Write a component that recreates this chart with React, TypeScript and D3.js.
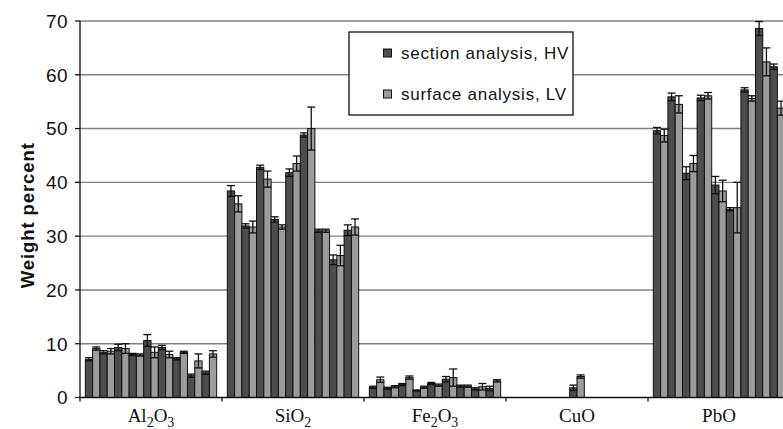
import React from "react";
import * as d3 from "d3";

// Categories: each label is split into [text, isSubscript] parts
const categories = ["Al2O3", "SiO2", "Fe2O3", "CuO", "PbO"];
const categoryParts: [string, boolean][][] = [
  [["Al", false], ["2", true], ["O", false], ["3", true]],
  [["SiO", false], ["2", true]],
  [["Fe", false], ["2", true], ["O", false], ["3", true]],
  [["CuO", false]],
  [["PbO", false]],
];

const seriesNames = ["section analysis, HV", "surface analysis, LV"];

// section analysis, HV (9 samples per oxide)
const hvAl2O3 = [7.1, 8.4, 9.3, 8.0, 10.6, 9.3, 7.2, 4.05, 4.6];
const hvSiO2 = [38.4, 31.9, 42.8, 33.1, 41.8, 48.8, 31.0, 25.6, 31.1];
const hvFe2O3 = [1.9, 1.7, 2.4, 1.3, 2.6, 3.4, 2.1, 1.6, 1.7];
const hvCuO = [0, 0, 0, 0, 1.8, 0, 0, 0, 0];
const hvPbO = [49.6, 55.9, 41.7, 55.7, 39.5, 35.0, 57.2, 68.6, 61.5];

// surface analysis, LV
const lvAl2O3 = [9.1, 8.6, 9.1, 7.9, 8.4, 8.0, 8.4, 6.8, 8.1];
const lvSiO2 = [36.0, 31.7, 40.6, 31.7, 43.5, 50.0, 31.0, 26.4, 31.7];
const lvFe2O3 = [3.3, 2.0, 3.7, 1.9, 2.3, 3.7, 2.1, 2.0, 3.1];
const lvCuO = [0, 0, 0, 0, 3.9, 0, 0, 0, 0];
const lvPbO = [48.7, 54.5, 43.5, 56.1, 38.4, 35.3, 55.6, 62.4, 53.8];

// error bars (±)
const hvErrAl2O3 = [0.3, 0.3, 0.6, 0.2, 1.1, 0.4, 0.2, 0.3, 0.3];
const hvErrSiO2 = [1.0, 0.4, 0.4, 0.5, 0.7, 0.4, 0.3, 0.9, 1.0];
const hvErrFe2O3 = [0.2, 0.2, 0.2, 0.1, 0.2, 0.5, 0.2, 0.2, 0.4];
const hvErrCuO = [0, 0, 0, 0, 0.5, 0, 0, 0, 0];
const hvErrPbO = [0.6, 0.7, 1.2, 0.5, 1.6, 0.3, 0.4, 1.3, 0.5];

const lvErrAl2O3 = [0.3, 0.5, 0.9, 0.2, 1.0, 0.6, 0.2, 1.3, 0.6];
const lvErrSiO2 = [1.5, 1.1, 1.5, 0.4, 1.4, 4.0, 0.3, 1.9, 1.5];
const lvErrFe2O3 = [0.5, 0.2, 0.3, 0.2, 0.2, 1.6, 0.2, 0.6, 0.2];
const lvErrCuO = [0, 0, 0, 0, 0.3, 0, 0, 0, 0];
const lvErrPbO = [1.2, 1.6, 1.5, 0.6, 2.0, 4.7, 0.5, 2.6, 1.3];

const yTicks = [0, 10, 20, 30, 40, 50, 60, 70];

const hvAll = [hvAl2O3, hvSiO2, hvFe2O3, hvCuO, hvPbO];
const lvAll = [lvAl2O3, lvSiO2, lvFe2O3, lvCuO, lvPbO];
const hvErrAll = [hvErrAl2O3, hvErrSiO2, hvErrFe2O3, hvErrCuO, hvErrPbO];
const lvErrAll = [lvErrAl2O3, lvErrSiO2, lvErrFe2O3, lvErrCuO, lvErrPbO];

const W = 783;
const H = 429;
const X0 = 80;
const X1 = 790;
const Y0 = 397.5;
const Y1 = 21;
const DARK = "#4d4d4d";
const LIGHT = "#9c9c9c";
const GRID = "#808080";
const SANS = "'Liberation Sans', Arial, Helvetica, sans-serif";
const SERIF = "'Liberation Serif', 'Times New Roman', Times, serif";

type Bar = { key: string; x: number; w: number; v: number; e: number; fill: string };

export default function App() {
  const y = d3.scaleLinear().domain([0, 70]).range([Y0, Y1]);
  const x = d3.scaleBand<string>().domain(categories).range([X0, X1]).padding(0);
  const inner = d3
    .scaleBand<number>()
    .domain(d3.range(18))
    .range([0, x.bandwidth()])
    .paddingInner(0)
    .paddingOuter(0.73);

  const bars: Bar[] = [];
  categories.forEach((c, ci) => {
    for (let i = 0; i < 9; i++) {
      const pairs: [number[], number[], string][] = [
        [hvAll[ci], hvErrAll[ci], DARK],
        [lvAll[ci], lvErrAll[ci], LIGHT],
      ];
      pairs.forEach(([vals, errs, fill], s) => {
        const idx = i * 2 + s;
        bars.push({
          key: `${c}-${idx}`,
          x: (x(c) as number) + (inner(idx) as number),
          w: inner.bandwidth(),
          v: vals[i],
          e: errs[i],
          fill,
        });
      });
    }
  });

  const capHalf = 4;

  return (
    <svg
      width={W}
      height={H}
      style={{ position: "absolute", left: 0, top: 0, background: "#fff" }}
    >
      <rect x={0} y={0} width={W} height={H} fill="#fff" />
      {/* gridlines */}
      {yTicks
        .filter((t) => t > 0)
        .map((t) => (
          <line key={t} x1={X0} x2={W} y1={y(t)} y2={y(t)} stroke={GRID} strokeWidth={1.4} />
        ))}
      {/* bars */}
      {bars
        .filter((b) => b.v > 0)
        .map((b) => (
          <rect
            key={b.key}
            x={b.x}
            y={y(b.v)}
            width={b.w}
            height={Y0 - y(b.v)}
            fill={b.fill}
            stroke="#111"
            strokeWidth={1}
          />
        ))}
      {/* error bars */}
      {bars
        .filter((b) => b.v > 0 && b.e > 0)
        .map((b) => {
          const cx = b.x + b.w / 2;
          const yt = y(b.v + b.e);
          const yb = y(b.v - b.e);
          return (
            <g key={"e" + b.key} stroke="#111" strokeWidth={1.3}>
              <line x1={cx} x2={cx} y1={yt} y2={yb} />
              <line x1={cx - capHalf} x2={cx + capHalf} y1={yt} y2={yt} />
              <line x1={cx - capHalf} x2={cx + capHalf} y1={yb} y2={yb} />
            </g>
          );
        })}
      {/* axes */}
      <line x1={X0} x2={X0} y1={Y1} y2={Y0} stroke="#111" strokeWidth={1.3} />
      <line x1={X0} x2={W} y1={Y0} y2={Y0} stroke="#111" strokeWidth={1.3} />
      {yTicks.map((t) => (
        <g key={"yt" + t}>
          <line x1={X0 - 5} x2={X0} y1={y(t)} y2={y(t)} stroke="#111" strokeWidth={1.3} />
          <text
            x={68}
            y={y(t)}
            dy="0.36em"
            textAnchor="end"
            fontFamily={SANS}
            fontSize={19}
            letterSpacing={0.4}
            fill="#111"
          >
            {t}
          </text>
        </g>
      ))}
      {categories.map((c) => (
        <line
          key={"xt" + c}
          x1={x(c) as number}
          x2={x(c) as number}
          y1={Y0}
          y2={Y0 + 4}
          stroke="#111"
          strokeWidth={1.3}
        />
      ))}
      {/* x labels */}
      {categories.map((c, ci) => (
        <text
          key={"xl" + c}
          x={(x(c) as number) + x.bandwidth() / 2}
          y={422}
          textAnchor="middle"
          fontFamily={SERIF}
          fontSize={19}
          fill="#111"
        >
          {categoryParts[ci].map(([txt, sub], k) => (
            <tspan
              key={k}
              fontSize={sub ? 14 : 19}
              dy={sub ? 5 : k > 0 ? -5 : 0}
            >
              {txt}
            </tspan>
          ))}
        </text>
      ))}
      {/* y title */}
      <text
        transform={`translate(34,${(Y0 + Y1) / 2 + 6}) rotate(-90)`}
        textAnchor="middle"
        fontFamily={SANS}
        fontWeight="bold"
        fontSize={18.5}
        letterSpacing={0.9}
        fill="#111"
      >
        Weight percent
      </text>
      {/* legend */}
      <rect x={349} y={32} width={224} height={83} fill="#fff" stroke="#111" strokeWidth={1.3} />
      {seriesNames.map((n, i) => (
        <g key={n}>
          <rect
            x={383.5}
            y={(i === 0 ? 53 : 94) - 4}
            width={8}
            height={8}
            fill={i === 0 ? DARK : LIGHT}
            stroke="#111"
            strokeWidth={1}
          />
          <text
            x={401}
            y={i === 0 ? 53 : 94}
            dy="0.35em"
            fontFamily={SANS}
            fontSize={17}
            letterSpacing={0.75}
            fill="#111"
          >
            {n}
          </text>
        </g>
      ))}
    </svg>
  );
}
